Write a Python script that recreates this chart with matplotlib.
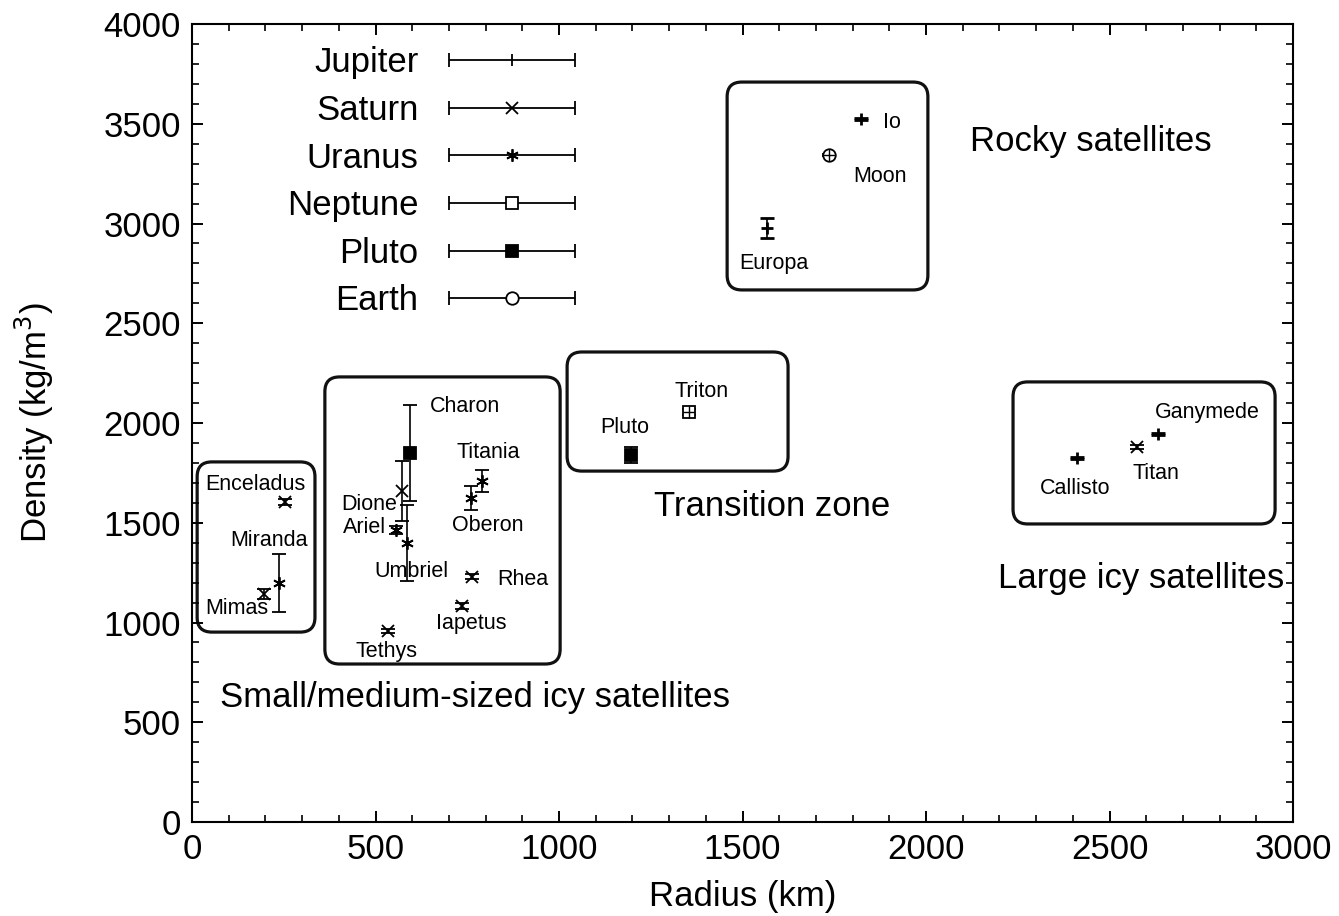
import numpy as np
import matplotlib.pyplot as plt
from matplotlib.patches import FancyBboxPatch
from matplotlib.legend_handler import HandlerErrorbar
from matplotlib.container import ErrorbarContainer
from matplotlib.ticker import MultipleLocator

plt.rcParams['font.family'] = ['Liberation Sans', 'DejaVu Sans']

# Satellites: name, parent planet, radius (km), density (kg/m3), density error
names = ['Mimas', 'Enceladus', 'Miranda', 'Tethys', 'Dione', 'Ariel', 'Umbriel',
         'Charon', 'Titania', 'Oberon', 'Rhea', 'Iapetus', 'Io', 'Moon', 'Europa',
         'Triton', 'Pluto', 'Ganymede', 'Titan', 'Callisto']
planet = ['Saturn', 'Saturn', 'Uranus', 'Saturn', 'Saturn', 'Uranus', 'Uranus',
          'Pluto', 'Uranus', 'Uranus', 'Saturn', 'Saturn', 'Jupiter', 'Earth', 'Jupiter',
          'Neptune', 'Pluto', 'Jupiter', 'Saturn', 'Jupiter']
radius = [197, 252, 236, 533, 573, 557, 585,
          593, 789, 761, 764, 735, 1822, 1736, 1567,
          1354, 1196, 2632, 2575, 2411]
density = [1145, 1605, 1200, 955, 1660, 1465, 1400,
           1850, 1710, 1625, 1230, 1085, 3525, 3343, 2977,
           2055, 1840, 1945, 1880, 1825]
density_err = [25, 15, 145, 10, 150, 20, 190,
               240, 55, 60, 12, 15, 5, 5, 50,
               15, 40, 5, 8, 5]

# label positions (x, y, ha)
label_pos = [(123, 1068, 'center'), (172, 1694, 'center'), (210, 1409, 'center'),
             (529, 857, 'center'), (482, 1594, 'center'), (471, 1474, 'center'),
             (599, 1258, 'center'), (649, 2085, 'left'), (807, 1850, 'center'),
             (807, 1484, 'center'), (831, 1218, 'left'), (760, 997, 'center'),
             (1883, 3504, 'left'), (1801, 3238, 'left'), (1586, 2802, 'center'),
             (1387, 2160, 'center'), (1180, 1975, 'center'), (2766, 2055, 'center'),
             (2627, 1749, 'center'), (2406, 1674, 'center')]

planets = ['Jupiter', 'Saturn', 'Uranus', 'Neptune', 'Pluto', 'Earth']
data_marker = {'Jupiter': '+', 'Saturn': 'x', 'Uranus': (6, 2, 0),
               'Neptune': 's', 'Pluto': 's', 'Earth': 'o'}
legend_marker = {'Jupiter': '|', 'Saturn': 'x', 'Uranus': (6, 2, 0),
                 'Neptune': 's', 'Pluto': 's', 'Earth': 'o'}
filled = {'Jupiter': 'k', 'Saturn': 'k', 'Uranus': 'k',
          'Neptune': 'white', 'Pluto': 'k', 'Earth': 'white'}

# region boxes (x0, y0, x1, y1) and their captions
boxes = [(14, 952, 335, 1805), (362, 792, 1003, 2231), (1022, 1759, 1624, 2356),
         (1458, 2667, 2005, 3709), (2237, 1494, 2951, 2206)]
regions = ['Small/medium-sized icy satellites', 'Transition zone',
           'Rocky satellites', 'Large icy satellites']
region_pos = [(76, 622), (1580, 1584), (2120, 3410), (2196, 1223)]

fig = plt.figure(figsize=(13.39, 9.16), dpi=100)
ax = fig.add_axes([0.1434, 0.1026, 0.8223, 0.8712])

for i in range(len(names)):
    p = planet[i]
    ax.errorbar(radius[i], density[i], yerr=density_err[i], marker=data_marker[p],
                linestyle='none', color='k', mfc=filled[p], mec='k', ms=9,
                mew=2.0 if p == 'Jupiter' else 1.3,
                elinewidth=1.2, capsize=5, capthick=1.2)
    if p in ('Earth', 'Neptune'):
        # cross-hair seen inside the open symbols
        ax.plot(radius[i], density[i], marker='+', color='k', ms=8, mew=1.0,
                linestyle='none', zorder=3)
    lx, ly, ha = label_pos[i]
    ax.text(lx, ly, names[i], fontsize=15.5, ha=ha, va='center')

for (x0, y0, x1, y1) in boxes:
    ax.add_patch(FancyBboxPatch((x0, y0), x1 - x0, y1 - y0,
                                boxstyle='round,pad=0,rounding_size=40',
                                mutation_aspect=1.84, fill=False,
                                lw=2.3, ec='#111111'))

for txt, (tx, ty) in zip(regions, region_pos):
    ax.text(tx, ty, txt, fontsize=25, ha='left' if txt != 'Transition zone' else 'center',
            va='center')

# legend proxies: horizontal bar with end caps and marker
handles = []
for p in planets:
    h = ax.errorbar([np.nan], [np.nan], xerr=[1], marker=legend_marker[p],
                    linestyle='none', color='k', mfc=filled[p], mec='k', ms=9,
                    mew=1.3, elinewidth=1.3, capsize=5, capthick=1.5)
    handles.append(h)
ax.legend(handles, planets, handler_map={ErrorbarContainer: HandlerErrorbar(xerr_size=1.816)},
          markerfirst=False, frameon=False, fontsize=25, handlelength=3.63,
          handletextpad=0.88, labelspacing=0.42, loc='upper right',
          bbox_to_anchor=(0.348, 0.972), borderaxespad=0, borderpad=0)

ax.set_xlim(0, 3000)
ax.set_ylim(0, 4000)
ax.xaxis.set_major_locator(MultipleLocator(500))
ax.xaxis.set_minor_locator(MultipleLocator(100))
ax.yaxis.set_major_locator(MultipleLocator(500))
ax.yaxis.set_minor_locator(MultipleLocator(100))
ax.tick_params(which='both', direction='in', top=True, right=True, labelsize=25)
ax.tick_params(which='major', length=8, width=1.4, pad=8)
ax.tick_params(which='minor', length=5, width=1.2)
for s in ax.spines.values():
    s.set_linewidth(1.5)

ax.set_xlabel('Radius (km)', fontsize=25, labelpad=10)
ax.set_ylabel('Density (kg/m$^3$)', fontsize=25, labelpad=34)

fig.savefig('out.png', dpi=100)
